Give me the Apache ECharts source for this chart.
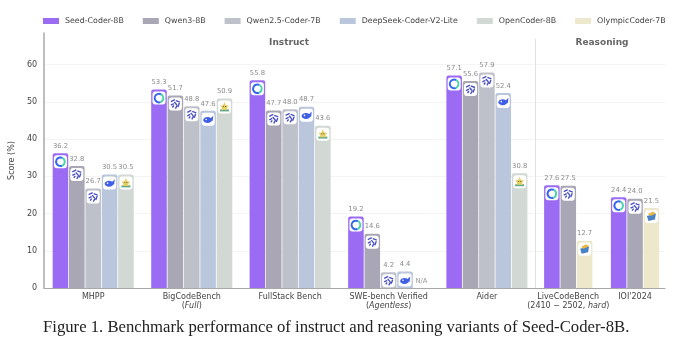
<!DOCTYPE html>
<html>
<head>
<meta charset="utf-8">
<style>
  html, body { margin: 0; padding: 0; background: #fff; }
  #chart { width: 696px; height: 354px; }
</style>
</head>
<body>
<div id="chart"></div>
<script src="https://cdn.jsdelivr.net/npm/echarts@6/dist/echarts.min.js"></script>
<script>
const benchmarkLabels = [
  'MHPP',
  '{n|BigCodeBench}\n{n|(}{i|Full}{n|)}',
  'FullStack Bench',
  '{n|SWE-bench Verified}\n{n|(}{i|Agentless}{n|)}',
  'Aider',
  '{n|LiveCodeBench}\n{n|(2410 − 2502, }{i|hard}{n|)}',
  "IOI'2024"
]

// 每组占的柱子数不同，所以横轴用"柱位"做单位
const groupStarts = [0.5, 6.52, 12.53, 18.55, 24.55, 30.52, 34.6]
const groupSizes = [5, 5, 5, 5, 5, 3, 3]

const seedCoder = [36.2, 53.3, 55.8, 19.2, 57.1, 27.6, 24.4]
const qwen3 = [32.8, 51.7, 47.7, 14.6, 55.6, 27.5, 24.0]
const qwen25 = [26.7, 48.8, 48.0, 4.2, 57.9, null, null]
const deepSeek = [30.5, 47.6, 48.7, 4.4, 52.4, null, null]
const openCoder = [30.5, 50.9, 43.6, 'N/A', 30.8, null, null]
const olympicCoder = [null, null, null, null, null, 12.7, 21.5]

const yTicks = [0, 10, 20, 30, 40, 50, 60]

function drawIcon(kind, cx, cy) {
  const plate = {
    type: 'rect',
    shape: { x: cx - 6.5, y: cy - 6.5, width: 13, height: 13, r: 3 },
    style: { fill: '#ffffff' }
  }
  const blue = '#3f5fe6'
  if (kind === 'seed') {
    return [
      plate,
      { type: 'arc', shape: { cx, cy, r: 4.3, startAngle: 1.2, endAngle: 5.2 }, style: { stroke: '#3566ee', lineWidth: 2, fill: null } },
      { type: 'arc', shape: { cx, cy, r: 4.3, startAngle: -1.1, endAngle: 1.2 }, style: { stroke: '#46d6a8', lineWidth: 2, fill: null } }
    ]
  }
  if (kind === 'qwen') {
    const strokes = [[-4.5, -2.5, -0.5, -4.5], [0.5, -3.5, 4.5, -2], [4, -1, 2.5, 3], [2, 1, 0, 4.5], [-4.5, 1, -1.5, -0.5], [-3, 3.5, -1.5, 1.5], [-1, -2, 1.5, 1]]
    return [plate].concat(strokes.map((s) => ({
      type: 'line',
      shape: { x1: cx + s[0], y1: cy + s[1], x2: cx + s[2], y2: cy + s[3] },
      style: { stroke: '#4b50c4', lineWidth: 1.4 }
    })))
  }
  if (kind === 'whale') {
    return [
      plate,
      { type: 'ellipse', shape: { cx: cx - 0.5, cy: cy + 0.8, rx: 4.4, ry: 3 }, style: { fill: blue } },
      { type: 'polygon', shape: { points: [[cx + 1.5, cy], [cx + 5.2, cy - 3.6], [cx + 4.6, cy + 1.8]] }, style: { fill: blue } },
      { type: 'circle', shape: { cx: cx - 2, cy: cy + 0.2, r: 0.8 }, style: { fill: '#ffffff' } }
    ]
  }
  if (kind === 'star') {
    return [
      plate,
      { type: 'rect', shape: { x: cx - 4.5, y: cy + 2.4, width: 9, height: 2 }, style: { fill: '#5fa98a' } },
      { type: 'polygon', shape: { points: [[cx, cy - 5], [cx + 1.4, cy - 1.8], [cx + 4.5, cy - 1.3], [cx + 2.5, cy + 0.8], [cx + 3, cy + 3], [cx - 3, cy + 3], [cx - 2.5, cy + 0.8], [cx - 4.5, cy - 1.3], [cx - 1.4, cy - 1.8]] }, style: { fill: '#e6cf62' } },
      { type: 'circle', shape: { cx: cx - 1.1, cy: cy - 0.4, r: 0.5 }, style: { fill: '#444444' } },
      { type: 'circle', shape: { cx: cx + 1.1, cy: cy - 0.4, r: 0.5 }, style: { fill: '#444444' } }
    ]
  }
  // olympic 图标：蓝色书本加黄色封顶
  return [
    plate,
    { type: 'polygon', shape: { points: [[cx - 4.5, cy - 0.5], [cx + 4.5, cy - 3], [cx + 3.5, cy + 3], [cx - 3, cy + 4.5]] }, style: { fill: '#4a83c4' } },
    { type: 'polygon', shape: { points: [[cx - 3.5, cy - 2.5], [cx + 1.5, cy - 5], [cx + 4.5, cy - 3], [cx - 1, cy - 0.5]] }, style: { fill: '#e9b63e' } }
  ]
}

function buildSeries(name, values, color, icon, slot) {
  const rows = []
  values.forEach((value, index) => {
    if (value === null) {
      return
    }
    const position = groupSizes[index] === 3 && slot > 2 ? 2 : slot
    rows.push({ x: groupStarts[index] + position + 0.5, value })
  })

  return {
    name,
    type: 'custom',
    coordinateSystem: 'cartesian2d',
    itemStyle: { color },
    encode: { x: 0, y: 1 },
    data: rows.map((row) => [row.x, row.value === 'N/A' ? 0 : row.value]),
    renderItem(params, api) {
      const row = rows[params.dataIndex]
      const base = api.coord([api.value(0), 0])
      if (row.value === 'N/A') {
        return {
          type: 'text',
          style: { x: base[0], y: base[1] - 7, text: 'N/A', fill: '#999999', font: '6.8px "DejaVu Sans"', align: 'center', verticalAlign: 'middle' }
        }
      }
      const top = api.coord([api.value(0), api.value(1)])
      const halfBar = api.size([1, 0])[0] / 2 - 0.4
      return {
        type: 'group',
        children: [
          {
            type: 'rect',
            shape: { x: top[0] - halfBar, y: top[1], width: halfBar * 2, height: base[1] - top[1], r: [2, 2, 0, 0] },
            style: { fill: color }
          },
          {
            type: 'text',
            style: { x: top[0], y: top[1] - 7, text: row.value.toFixed(1), fill: '#8c8c8c', font: '6.8px "DejaVu Sans"', align: 'center', verticalAlign: 'middle' }
          }
        ].concat(drawIcon(icon, top[0], top[1] + 8.5))
      }
    }
  }
}

const series = [
  buildSeries('Seed-Coder-8B', seedCoder, '#9b6cf3', 'seed', 0),
  buildSeries('Qwen3-8B', qwen3, '#a9a7b5', 'qwen', 1),
  buildSeries('Qwen2.5-Coder-7B', qwen25, '#bec0ca', 'qwen', 2),
  buildSeries('DeepSeek-Coder-V2-Lite', deepSeek, '#b9c6dc', 'whale', 3),
  buildSeries('OpenCoder-8B', openCoder, '#d2d8d4', 'star', 4),
  buildSeries('OlympicCoder-7B', olympicCoder, '#ede7cb', 'book', 5)
]

// 分隔 Instruct 和 Reasoning 的竖线
series[0].markLine = {
  silent: true,
  symbol: 'none',
  label: { show: false },
  lineStyle: { color: '#e2e2e2', width: 1, type: 'solid' },
  data: [[{ coord: [30.0, 0] }, { coord: [30.0, 67] }]]
}

const groupCenters = groupStarts.map((start, index) => start + groupSizes[index] / 2)

const chart = echarts.init(document.getElementById('chart'), null, { renderer: 'canvas' })
chart.setOption({
  animation: false,
  backgroundColor: '#ffffff',
  textStyle: { fontFamily: '"DejaVu Sans"' },
  title: [
    { text: 'Instruct', left: 284, top: 33, textAlign: 'center', textStyle: { fontSize: 9, fontWeight: 'bold', color: '#666666' } },
    { text: 'Reasoning', left: 597, top: 33, textAlign: 'center', textStyle: { fontSize: 9, fontWeight: 'bold', color: '#666666' } },
    {
      text: 'Figure 1. Benchmark performance of instruct and reasoning variants of Seed-Coder-8B.',
      left: 38,
      top: 314,
      textStyle: { fontFamily: '"Liberation Serif"', fontSize: 16.7, fontWeight: 'normal', color: '#222222' }
    }
  ],
  legend: {
    left: 38,
    top: 12,
    icon: 'rect',
    itemWidth: 16,
    itemHeight: 6,
    itemGap: 19,
    textStyle: { fontSize: 7.9, color: '#444444', padding: [0, 0, 0, 1] },
    data: series.map((item) => item.name)
  },
  grid: { left: 41, right: 31, top: 33, bottom: 66 },
  xAxis: {
    type: 'value',
    min: 0,
    max: 37.93,
    splitLine: { show: false },
    axisTick: { show: false },
    axisLine: { show: true, lineStyle: { color: '#a8a8a8', width: 1.2 } },
    axisLabel: {
      customValues: groupCenters,
      margin: 4,
      hideOverlap: false,
      showMinLabel: true,
      showMaxLabel: true,
      color: '#444444',
      fontSize: 8,
      lineHeight: 9,
      rich: {
        n: { fontSize: 8, lineHeight: 9, color: '#444444' },
        i: { fontSize: 8, lineHeight: 9, color: '#444444', fontStyle: 'italic' }
      },
      formatter(value) {
        const index = groupCenters.findIndex((center) => Math.abs(center - value) < 0.001)
        return index >= 0 ? benchmarkLabels[index] : ''
      }
    }
  },
  yAxis: {
    type: 'value',
    min: 0,
    max: 68.5,
    interval: 10,
    name: 'Score (%)',
    nameLocation: 'middle',
    nameGap: 26,
    nameTextStyle: { fontSize: 8, color: '#444444' },
    axisLine: { show: true, lineStyle: { color: '#a8a8a8', width: 1.5 } },
    axisTick: { show: false },
    axisLabel: { customValues: yTicks, margin: 7, fontSize: 8, color: '#444444' },
    splitLine: { show: true, showMaxLine: false, showMinLine: false, lineStyle: { color: '#f4f4f4', width: 1 } }
  },
  series
})
</script>
</body>
</html>
